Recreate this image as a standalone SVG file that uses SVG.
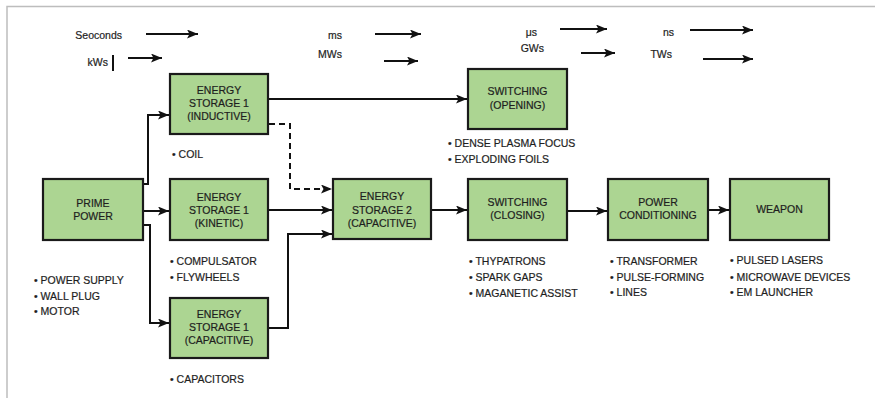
<svg xmlns="http://www.w3.org/2000/svg" width="875" height="398" viewBox="0 0 875 398">
<defs>
<marker id="ah" viewBox="0 0 11 9" refX="11" refY="4.5" markerWidth="11" markerHeight="9" markerUnits="userSpaceOnUse" orient="auto">
<path d="M0,0 L11,4.5 L0,9 L2.5,4.5 Z" fill="#111"/>
</marker>
</defs>
<style>
text{font-family:"Liberation Sans",Arial,sans-serif;font-size:10.5px;fill:#1e1e1e;stroke:#1e1e1e;stroke-width:0.2}
.c{text-anchor:middle}
.r{text-anchor:end}
.box{fill:#acd592;stroke:#1a1a1a;stroke-width:2.2}
.ln{fill:none;stroke:#111;stroke-width:2}
.ds{fill:none;stroke:#111;stroke-width:2;stroke-dasharray:6,4}
</style>
<rect width="875" height="398" fill="#fff"/>
<path d="M7,398 V6.5 H875" fill="none" stroke="#bdbdbd" stroke-width="1.5"/>

<g id="scale">
<text x="122" y="38.5" class="r">Seoconds</text>
<text x="108" y="66" class="r">kWs</text>
<line x1="113" y1="55" x2="113" y2="71" stroke="#111" stroke-width="2"/>
<text x="342" y="38.5" class="r">ms</text>
<text x="342" y="57.5" class="r">MWs</text>
<text x="537" y="35.5" class="r">μs</text>
<text x="544" y="51.5" class="r">GWs</text>
<text x="674" y="35.5" class="r">ns</text>
<text x="672" y="57.5" class="r">TWs</text>
</g>

<g id="connectors">
<line x1="146" y1="34" x2="198" y2="34" class="ln" marker-end="url(#ah)"/>
<line x1="128" y1="58" x2="162" y2="58" class="ln" marker-end="url(#ah)"/>
<line x1="375" y1="34" x2="421" y2="34" class="ln" marker-end="url(#ah)"/>
<line x1="384" y1="61" x2="418" y2="61" class="ln" marker-end="url(#ah)"/>
<line x1="560" y1="29" x2="607" y2="29" class="ln" marker-end="url(#ah)"/>
<line x1="581" y1="53" x2="615" y2="53" class="ln" marker-end="url(#ah)"/>
<line x1="690" y1="30" x2="753" y2="30" class="ln" marker-end="url(#ah)"/>
<line x1="703" y1="59" x2="753" y2="59" class="ln" marker-end="url(#ah)"/>

<path d="M143,184 H148 V115 H169" class="ln" marker-end="url(#ah)"/>
<path d="M143,211 H169" class="ln" marker-end="url(#ah)"/>
<path d="M143,225 H150 V323 H169" class="ln" marker-end="url(#ah)"/>
<path d="M268,99 H467" class="ln" marker-end="url(#ah)"/>
<path d="M269,124 H290 V189 H332" class="ds" marker-end="url(#ah)"/>
<path d="M268,210 H332" class="ln" marker-end="url(#ah)"/>
<path d="M268,328 H288 V234 H332" class="ln" marker-end="url(#ah)"/>
<path d="M431,210 H467" class="ln" marker-end="url(#ah)"/>
<path d="M567,211 H607" class="ln" marker-end="url(#ah)"/>
<path d="M708,210 H729" class="ln" marker-end="url(#ah)"/>
</g>

<g id="es1-inductive">
<rect x="170" y="74" width="98" height="60" class="box"/>
<text x="219" y="93.5" class="c">ENERGY</text>
<text x="219" y="106.5" class="c">STORAGE 1</text>
<text x="219" y="120" class="c">(INDUCTIVE)</text>
<text x="172" y="157.5">• COIL</text>
</g>

<g id="switching-opening">
<rect x="468" y="69" width="99" height="60" class="box"/>
<text x="517.5" y="94.5" class="c">SWITCHING</text>
<text x="517.5" y="109" class="c">(OPENING)</text>
<text x="448" y="146.5">• DENSE PLASMA FOCUS</text>
<text x="448" y="162.5">• EXPLODING FOILS</text>
</g>

<g id="prime-power">
<rect x="43" y="179" width="100" height="61" class="box"/>
<text x="93" y="206.5" class="c">PRIME</text>
<text x="93" y="219.5" class="c">POWER</text>
<text x="34" y="283.5">• POWER SUPPLY</text>
<text x="34" y="299.5">• WALL PLUG</text>
<text x="34" y="315">• MOTOR</text>
</g>

<g id="es1-kinetic">
<rect x="170" y="179" width="98" height="61" class="box"/>
<text x="219" y="200.5" class="c">ENERGY</text>
<text x="219" y="213.5" class="c">STORAGE 1</text>
<text x="219" y="227" class="c">(KINETIC)</text>
<text x="170" y="264.5">• COMPULSATOR</text>
<text x="170" y="280.5">• FLYWHEELS</text>
</g>

<g id="es1-capacitive">
<rect x="170" y="298" width="98" height="60" class="box"/>
<text x="219" y="317.5" class="c">ENERGY</text>
<text x="219" y="330.5" class="c">STORAGE 1</text>
<text x="219" y="344" class="c">(CAPACITIVE)</text>
<text x="170" y="382.5">• CAPACITORS</text>
</g>

<g id="es2-capacitive">
<rect x="333" y="179" width="98" height="60" class="box"/>
<text x="382" y="200" class="c">ENERGY</text>
<text x="382" y="213.5" class="c">STORAGE 2</text>
<text x="382" y="226.5" class="c">(CAPACITIVE)</text>
</g>

<g id="switching-closing">
<rect x="468" y="179" width="99" height="61" class="box"/>
<text x="517.5" y="205.5" class="c">SWITCHING</text>
<text x="517.5" y="218.5" class="c">(CLOSING)</text>
<text x="469" y="264.5">• THYPATRONS</text>
<text x="469" y="280.5">• SPARK GAPS</text>
<text x="469" y="296.5">• MAGANETIC ASSIST</text>
</g>

<g id="power-conditioning">
<rect x="608" y="179" width="100" height="61" class="box"/>
<text x="658" y="205.5" class="c">POWER</text>
<text x="658" y="218.5" class="c">CONDITIONING</text>
<text x="610" y="264.5">• TRANSFORMER</text>
<text x="610" y="280.5">• PULSE-FORMING</text>
<text x="610" y="296">• LINES</text>
</g>

<g id="weapon">
<rect x="730" y="179" width="99" height="61" class="box"/>
<text x="779.5" y="212.5" class="c">WEAPON</text>
<text x="730" y="264">• PULSED LASERS</text>
<text x="730" y="280.5">• MICROWAVE DEVICES</text>
<text x="730" y="296">• EM LAUNCHER</text>
</g>
</svg>
